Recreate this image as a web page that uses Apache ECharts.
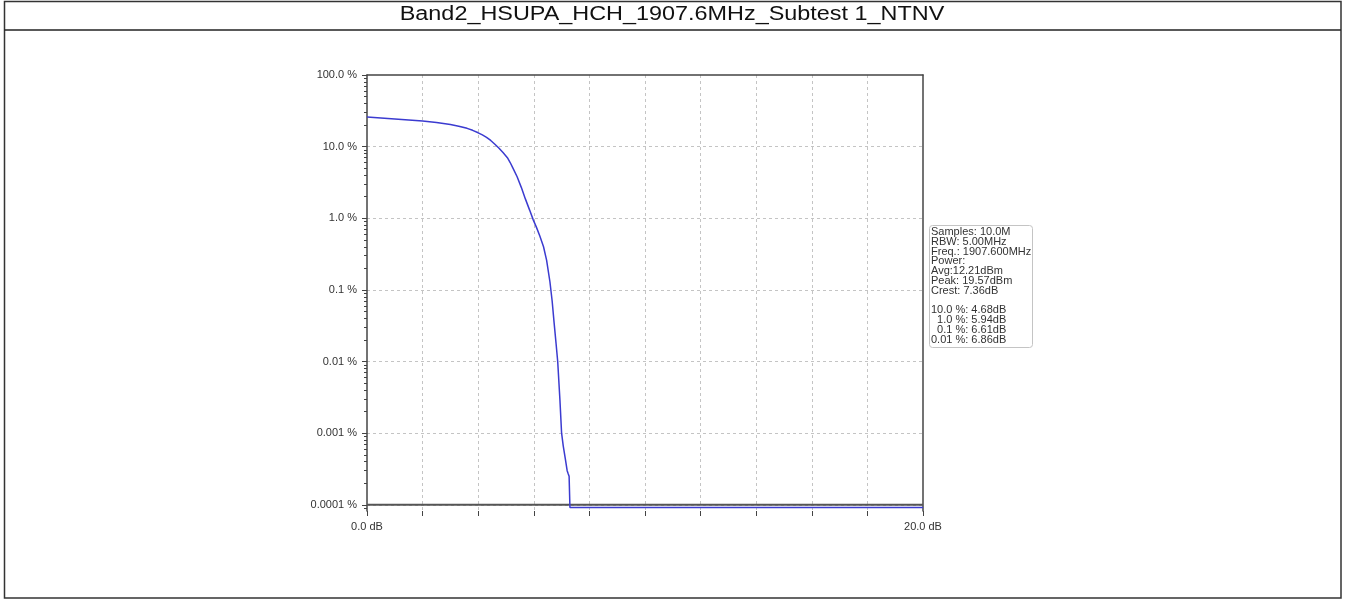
<!DOCTYPE html>
<html>
<head>
<meta charset="utf-8">
<script src="https://cdn.jsdelivr.net/npm/echarts@6/dist/echarts.min.js"></script>
<style>
html,body{margin:0;padding:0;background:#fff;}
#c{width:1345px;height:600px;}
</style>
</head>
<body>
<div id="c"></div>
<script>
// ---- data ----
const titleText = 'Band2_HSUPA_HCH_1907.6MHz_Subtest 1_NTNV';
const dbValues  = [0, 0.5, 1.0, 1.5, 2.0, 2.5, 3.0, 3.3, 3.6, 3.8, 4.0, 4.15, 4.3, 4.45, 4.6, 4.75, 4.9, 5.05, 5.15, 5.25, 5.4, 5.55, 5.7, 5.85, 5.98, 6.1, 6.22, 6.35, 6.46, 6.58, 6.66, 6.73, 6.8, 6.86, 6.94, 7.0, 7.06, 7.13, 7.2, 7.24, 7.27, 7.3, 20];
const pctValues = [26, 25.2, 24.4, 23.6, 22.8, 21.7, 20.3, 19.3, 18, 16.9, 15.6, 14.6, 13.5, 12.2, 10.8, 9.5, 8.2, 7.0, 6.0, 5.0, 3.8, 2.7, 1.85, 1.3, 0.95, 0.74, 0.56, 0.4, 0.26, 0.13, 0.07, 0.035, 0.018, 0.01, 0.0029, 0.001, 0.00066, 0.00045, 0.0003, 0.00027, 0.00025, 0.000092, 0.000092];
const yTickValues = [0.0001, 0.001, 0.01, 0.1, 1, 10, 100];
const yTickLabels = ['0.0001 %', '0.001 %', '0.01 %', '0.1 %', '1.0 %', '10.0 %', '100.0 %'];
const xLabelValues = [0, 20];
const xTickLabels = ['0.0 dB', '20.0 dB'];
const statsLines = [
  'Samples: 10.0M',
  'RBW: 5.00MHz',
  'Freq.: 1907.600MHz',
  'Power:',
  'Avg:12.21dBm',
  'Peak: 19.57dBm',
  'Crest: 7.36dB',
  '',
  '10.0 %: 4.68dB',
  '  1.0 %: 5.94dB',
  '  0.1 %: 6.61dB',
  '0.01 %: 6.86dB'
];
const floorX = [0, 20];
const floorY = [0.0001, 0.0001];

// ---- chart ----
const Y_MIN = 8.2e-5, Y_MAX = 100;
const minorTicks = [];
for (let d = -5; d <= 1; d++) {
  for (let k = 2; k <= 9; k++) {
    const v = k * Math.pow(10, d);
    if (v >= Y_MIN && v <= Y_MAX) minorTicks.push(v);
  }
}
const FONT = 'Liberation Sans, Arial, sans-serif';
const chart = echarts.init(document.getElementById('c'));
const dark = '#444';
const grid = {left: 367, right: 422, top: 75, bottom: 89};

function yLabel(v) {
  for (let i = 0; i < yTickValues.length; i++) {
    if (Math.abs(Math.log10(v) - Math.log10(yTickValues[i])) < 1e-6) return yTickLabels[i];
  }
  return '';
}
function xLabel(v) {
  const i = xLabelValues.indexOf(v);
  return i >= 0 ? xTickLabels[i] : '';
}

chart.setOption({
  animation: false,
  backgroundColor: '#fff',
  grid: grid,
  xAxis: [{
    type: 'value', min: 0, max: 20, interval: 2,
    axisLine: {show: false},
    axisTick: {show: true, length: 5, lineStyle: {color: dark}},
    axisLabel: {formatter: xLabel, fontFamily: FONT, fontSize: 11, color: '#333', margin: 10},
    splitLine: {show: true, showMinLine: false, showMaxLine: false, lineStyle: {color: '#c4c4c4', type: [3, 3], width: 1}}
  }, {
    type: 'value', position: 'top', min: 0, max: 20,
    axisLine: {show: true, lineStyle: {color: dark, width: 1.5}},
    axisTick: {show: false}, axisLabel: {show: false}, splitLine: {show: false}
  }],
  yAxis: [{
    type: 'log', logBase: 10, min: Y_MIN, max: Y_MAX,
    axisLine: {show: true, lineStyle: {color: dark, width: 1.5}},
    axisTick: {show: true, length: 5, lineStyle: {color: dark}},
    axisLabel: {formatter: yLabel, fontFamily: FONT, fontSize: 11, color: '#333', margin: 10, showMinLabel: false},
    splitLine: {show: true, showMinLine: false, showMaxLine: false, lineStyle: {color: '#c4c4c4', type: [3, 3], width: 1}}
  }, {
    type: 'log', logBase: 10, min: Y_MIN, max: Y_MAX, position: 'left',
    axisLine: {show: false},
    axisTick: {show: true, length: 3, customValues: minorTicks, lineStyle: {color: dark}},
    axisLabel: {show: false}, splitLine: {show: false}
  }, {
    type: 'log', logBase: 10, min: Y_MIN, max: Y_MAX, position: 'right',
    axisLine: {show: true, lineStyle: {color: dark, width: 1.5}},
    axisTick: {show: false}, axisLabel: {show: false}, splitLine: {show: false}
  }],
  series: [{
    type: 'line',
    xAxisIndex: 0, yAxisIndex: 0,
    data: floorX.map((x, i) => [x, floorY[i]]),
    symbol: 'none', silent: true, z: 3,
    lineStyle: {color: '#555', width: 2}
  }, {
    type: 'line',
    xAxisIndex: 0, yAxisIndex: 0,
    data: dbValues.map((x, i) => [x, pctValues[i]]),
    symbol: 'none', z: 4,
    lineStyle: {color: '#3b3bd0', width: 1.5},
    itemStyle: {color: '#3b3bd0'},
    clip: false
  }],
  graphic: [
    {type: 'rect', shape: {x: 4.5, y: 1.5, width: 1336.5, height: 596.5},
     style: {fill: 'none', stroke: '#333', lineWidth: 1.5}, z: 100},
    {type: 'line', shape: {x1: 4.5, y1: 30, x2: 1341, y2: 30},
     style: {stroke: '#222', lineWidth: 1.5}, z: 100},
    {type: 'text', x: 672, y: 14.5, scaleX: 1.17, z: 101,
     style: {text: titleText, font: '20px ' + FONT, fill: '#111', align: 'center', verticalAlign: 'middle'}},
    {type: 'rect', shape: {x: 929.5, y: 225.5, width: 103, height: 122, r: 3},
     style: {fill: '#fff', stroke: '#c4c4c4', lineWidth: 1}, z: 100},
    {type: 'text', x: 931, y: 227, z: 101,
     style: {text: statsLines.join('\n'), font: '11px ' + FONT, fill: '#333', lineHeight: 9.8}}
  ]
});
</script>
</body>
</html>
